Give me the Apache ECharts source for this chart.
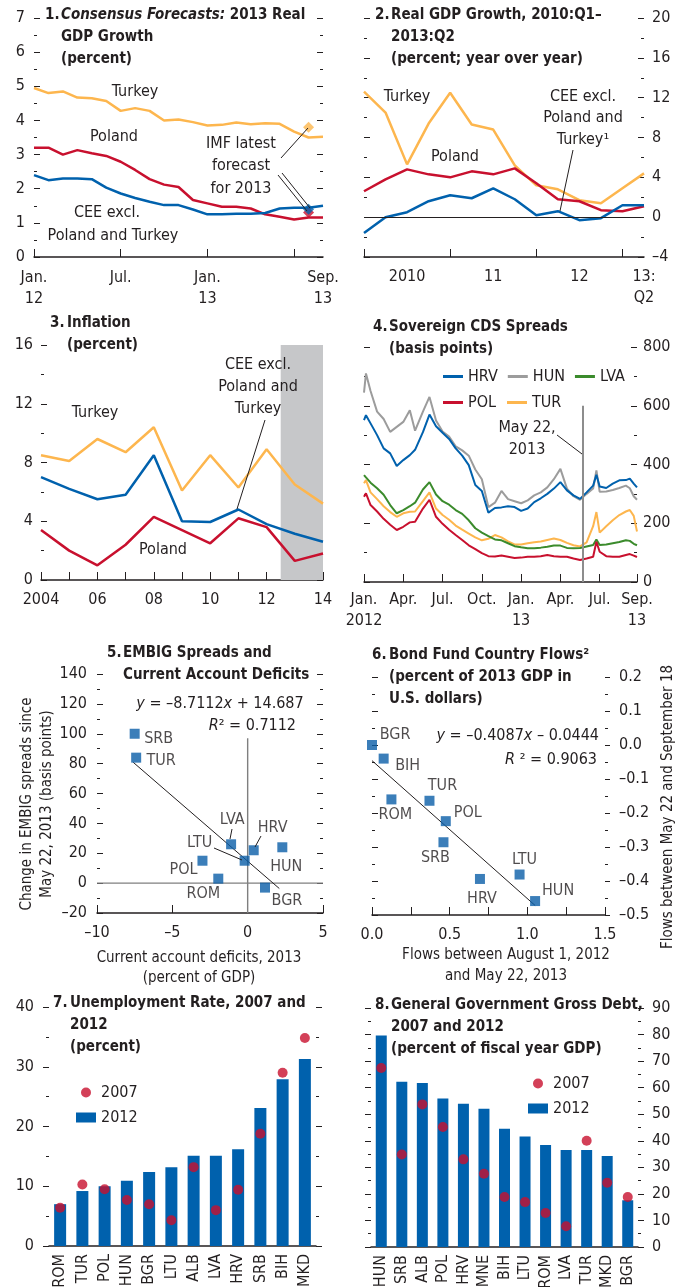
<!DOCTYPE html>
<html>
<head>
<meta charset="utf-8">
<script src="https://cdn.jsdelivr.net/npm/echarts@6/dist/echarts.min.js"></script>
<style>
html, body { margin: 0; padding: 0; background: #fff; }
#chart { width: 685px; height: 1287px; }
</style>
</head>
<body>
<div id="chart"></div>
<script>
// ---- panel 1: Consensus forecasts of 2013 growth (monthly, Jan 12 - Sep 13)
var p1Months = ['2012-01','2012-02','2012-03','2012-04','2012-05','2012-06','2012-07','2012-08','2012-09','2012-10','2012-11','2012-12',
                '2013-01','2013-02','2013-03','2013-04','2013-05','2013-06','2013-07','2013-08','2013-09'];
var p1Turkey = [4.95,4.8,4.85,4.67,4.65,4.57,4.28,4.36,4.28,4.0,4.03,3.95,3.85,3.87,3.94,3.89,3.92,3.9,3.67,3.5,3.52];
var p1Poland = [3.2,3.2,3.0,3.13,3.04,2.96,2.79,2.55,2.28,2.12,2.05,1.67,1.57,1.47,1.47,1.42,1.25,1.18,1.1,1.16,1.16];
var p1Cee = [2.4,2.25,2.3,2.3,2.28,2.03,1.86,1.73,1.62,1.52,1.52,1.39,1.25,1.25,1.27,1.27,1.29,1.42,1.44,1.44,1.5];
var p1ImfMonth = '2013-08';
var p1Imf = [3.8, 1.3, 1.4]; // Turkey, Poland, CEE

// ---- panel 2: real GDP growth, quarterly
var p2Quarters = ['2010Q1','2010Q2','2010Q3','2010Q4','2011Q1','2011Q2','2011Q3','2011Q4',
                  '2012Q1','2012Q2','2012Q3','2012Q4','2013Q1','2013Q2'];
var p2Turkey = [12.6,10.5,5.3,9.4,12.5,9.3,8.8,5.2,3.2,2.8,1.7,1.4,2.9,4.4];
var p2Poland = [2.6,3.8,4.8,4.3,4.0,4.6,4.3,4.9,3.4,1.8,1.6,0.7,0.6,1.1];
var p2Cee = [-1.6,0.0,0.5,1.6,2.2,1.9,2.9,1.8,0.2,0.6,-0.3,-0.1,1.2,1.2];

// ---- panel 3: inflation, annual
var p3Years = [2004,2005,2006,2007,2008,2009,2010,2011,2012,2013,2014];
var p3Turkey = [8.5,8.1,9.6,8.7,10.4,6.1,8.5,6.3,8.9,6.5,5.2];
var p3Cee = [7.0,6.2,5.5,5.8,8.5,4.0,3.95,4.8,3.8,3.15,2.6];
var p3Poland = [3.4,2.0,1.0,2.4,4.3,3.4,2.5,4.2,3.6,1.3,1.8];

// ---- panel 4: sovereign CDS spreads (x = months since Jan. 1, 2012)
var cdsMonth = [0,0.15,0.5,1,1.5,2,2.5,3,3.5,3.9,4.5,5,5.5,6,6.5,7,7.5,8,8.5,9,9.5,10,10.5,11,11.5,12,12.5,13,13.5,14,14.5,
                15,15.5,16,16.5,17,17.5,17.75,18,18.5,19,19.5,20,20.3,20.6,20.85];
var cdsHun = [645,710,650,580,555,511,528,545,585,515,580,630,550,512,495,462,448,430,383,350,255,270,310,282,275,268,278,295,305,322,350,
              385,318,292,280,300,318,380,307,308,313,320,328,319,292,280];
var cdsHrv = [551,568,540,500,455,438,395,415,432,450,510,570,530,508,487,455,430,398,330,310,236,252,254,258,255,242,250,272,285,300,318,
              340,312,295,283,305,328,365,325,320,335,346,347,352,335,322];
var cdsLva = [364,356,338,319,297,262,234,245,258,270,315,340,298,275,263,245,232,210,183,168,156,145,142,132,122,118,115,115,117,120,124,
              124,116,115,116,121,126,145,126,128,132,136,142,140,130,125];
var cdsTur = [336,347,305,282,258,238,222,234,239,240,275,305,250,228,212,192,178,165,152,142,147,160,152,138,128,128,132,135,138,143,148,
              143,133,125,121,135,190,238,168,190,210,228,240,245,225,172];
var cdsPol = [290,302,262,240,215,195,177,188,203,205,250,280,222,198,178,160,143,125,112,98,88,87,90,86,82,83,86,86,88,92,88,
              86,86,80,75,80,86,137,103,88,86,86,92,95,90,85];
var may22 = 16.68;

// ---- panel 5: EMBIG spreads vs current account deficits
var emNames = ['SRB','TUR','LVA','HRV','HUN','LTU','POL','ROM','BGR'];
var emCaDeficit = [-7.5,-7.4,-1.1,0.4,2.3,-0.2,-3.0,-1.95,1.15];
var emSpreadChange = [100,84,26,22,24,15,15,3,-3];
var emTrendX = [-7.6, 2.1];
var emTrendY = [80.9, -3.6];

// ---- panel 6: bond fund flows
var bfNames = ['BGR','BIH','ROM','TUR','POL','SRB','HRV','LTU','HUN'];
var bfBefore = [0.0,0.075,0.125,0.37,0.475,0.46,0.695,0.95,1.05];
var bfAfter = [0.0,-0.04,-0.16,-0.164,-0.224,-0.286,-0.394,-0.381,-0.459];
var bfTrendX = [0.0, 1.05];
var bfTrendY = [-0.046, -0.472];

// ---- panel 7: unemployment
var unCountries = ['ROM','TUR','POL','HUN','BGR','LTU','ALB','LVA','HRV','SRB','BIH','MKD'];
var un2012 = [7.0,9.2,10.0,10.9,12.4,13.2,15.1,15.1,16.2,23.1,27.9,31.3];
var un2007 = [6.4,10.3,9.5,7.7,7.0,4.3,13.2,6.0,9.4,18.8,29.0,34.8];

// ---- panel 8: gross debt
var debtCountries = ['HUN','SRB','ALB','POL','HRV','MNE','BIH','LTU','ROM','LVA','TUR','MKD','BGR'];
var debt2012 = [79.6,62.2,61.8,55.9,53.9,52.1,44.5,41.6,38.4,36.5,36.5,34.3,17.6];
var debt2007 = [67.4,34.8,53.7,45.2,33.0,27.6,18.8,16.9,12.8,7.8,40.0,24.2,18.8];

// ---------------------------------------------------------------------------
var FONT = "'DejaVu Sans Condensed','Liberation Sans Narrow',sans-serif";
var FS = 16;      // tick labels, annotations
var FT = 15;      // titles (bold)
var FN = 15;      // axis names
var INK = '#231f20';
var BLUE = '#0061ad', RED = '#c8102e', GOLD = '#fdb64e', GRAY = '#9c9c9c', GREEN = '#3b8b2c', SQUARE = '#0a5ea8';

function merge(a, b) {
    for (var k in b) {
        if (b[k] && typeof b[k] === 'object' && !Array.isArray(b[k]) && a[k] && typeof a[k] === 'object') merge(a[k], b[k]);
        else a[k] = b[k];
    }
    return a;
}
function dash(v) { return String(v).replace('-', '\u2013'); }

var boxes = [
    [34, 18, 289, 239],
    [364, 18, 280, 239],
    [41, 345, 282, 235],
    [364, 347, 273, 235],
    [97, 674, 226, 239],
    [372, 677, 233, 238],
    [49, 1007, 267, 239],
    [371, 1008, 267, 239]
];
var grids = boxes.map(function (b) {
    return { left: b[0], top: b[1], width: b[2], height: b[3], containLabel: false, outerBoundsMode: 'none' };
});

// two y axes per grid: index 2*g (left) and 2*g+1 (right)
function yPair(g, labelSide, o, labelExtra) {
    var out = [];
    ['left', 'right'].forEach(function (pos) {
        var a = merge({
            gridIndex: g, type: 'value', position: pos,
            axisLine: { show: false, onZero: false }, splitLine: { show: false },
            axisTick: { show: true, inside: true, length: 6, lineStyle: { color: INK, width: 1 } },
            minorTick: { show: true, splitNumber: 2, length: 3, lineStyle: { color: INK, width: 1 } },
            axisLabel: { show: pos === labelSide, color: INK, fontFamily: FONT, fontSize: FS, margin: 8, formatter: dash }
        }, o);
        if (pos === labelSide && labelExtra) merge(a, labelExtra);
        out.push(a);
    });
    return out;
}
var baseX = {
    axisLine: { show: true, onZero: false, lineStyle: { color: INK, width: 1.5 } },
    axisTick: { show: true, inside: true, length: 8, lineStyle: { color: INK, width: 1 } },
    splitLine: { show: false },
    axisLabel: { color: INK, fontFamily: FONT, fontSize: FS, lineHeight: 21, margin: 9 }
};
function xAxis(g, o) { return merge(merge({ gridIndex: g }, JSON.parse(JSON.stringify(baseX))), o); }

var p1Labels = { 0: 'Jan.\n12', 6: 'Jul.', 12: 'Jan.\n13', 20: 'Sep.\n13' };
var p2Labels = { 2: '2010', 6: '11', 10: '12', 13: '13:\nQ2' };
var p4Labels = { 0: 'Jan.\n2012', 3: 'Apr.', 6: 'Jul.', 9: 'Oct.', 12: 'Jan.\n13', 15: 'Apr.', 18: 'Jul.' };

var xAxes = [
    xAxis(0, { type: 'category', data: p1Months, boundaryGap: false,
        axisTick: { interval: function (i) { return i % 6 === 0; } },
        axisLabel: { margin: 10, interval: function (i) { return p1Labels[i] !== undefined; },
                     formatter: function (v, i) { return p1Labels[i] || ''; } } }),
    xAxis(1, { type: 'category', data: p2Quarters, boundaryGap: false,
        axisTick: { interval: function (i) { return i % 4 === 0; } },
        axisLabel: { interval: function (i) { return p2Labels[i] !== undefined; },
                     formatter: function (v, i) { return p2Labels[i] || ''; } } }),
    xAxis(2, { type: 'value', min: 2004, max: 2014, interval: 1,
        axisLabel: { formatter: function (v) { return v === 2004 ? '2004' : (v % 2 === 0 ? String(v).slice(2) : ''); } } }),
    xAxis(3, { type: 'value', min: 0, max: 20.85, interval: 3,
        axisLabel: { margin: 7, formatter: function (v) { return p4Labels[v] !== undefined ? p4Labels[v] : (v > 20 ? 'Sep.\n13' : ''); } } }),
    xAxis(4, { type: 'value', min: -10, max: 5, interval: 5, axisLabel: { formatter: dash } }),
    xAxis(5, { type: 'value', min: 0, max: 1.5, interval: 0.25,
        axisLabel: { formatter: function (v) { return Math.abs(v * 2 - Math.round(v * 2)) < 1e-6 ? v.toFixed(1) : ''; } } }),
    xAxis(6, { type: 'category', data: unCountries, axisTick: { show: false },
        axisLabel: { rotate: 90, interval: 0, margin: 8 } }),
    xAxis(7, { type: 'category', data: debtCountries, axisTick: { show: false },
        axisLabel: { rotate: 90, interval: 0, margin: 8 } })
];

var yAxes = [].concat(
    yPair(0, 'left', { min: 0, max: 7, interval: 1 }, { axisLabel: { margin: 9 } }),
    yPair(1, 'right', { min: -4, max: 20, interval: 4 }),
    yPair(2, 'left', { min: 0, max: 16, interval: 4 }),
    yPair(3, 'right', { min: 0, max: 800, interval: 200 }, { axisLabel: { margin: 6 } }),
    yPair(4, 'left', { min: -20, max: 140, interval: 20 }, { axisLabel: { margin: 10 } }),
    yPair(5, 'right', { min: -0.5, max: 0.2, interval: 0.1 },
        { axisTick: { inside: false, length: 5 }, axisLabel: { margin: 14, formatter: function (v) { return dash(v.toFixed(1)); } } }),
    yPair(6, 'left', { min: 0, max: 40, interval: 10, axisTick: { inside: false } }, { axisLabel: { margin: 15 } }),
    yPair(7, 'right', { min: 0, max: 90, interval: 10, axisTick: { inside: false } }, { axisLabel: { margin: 14 } })
);

function line(g, name, data, color, width, extra) {
    return merge({
        type: 'line', name: name, xAxisIndex: g, yAxisIndex: 2 * g, data: data,
        showSymbol: false, symbol: 'none', color: color, itemStyle: { color: color },
        lineStyle: { color: color, width: width }, z: 3
    }, extra || {});
}
function pairs(xs, ys) { return xs.map(function (x, i) { return [x, ys[i]]; }); }

var series = [];
// panel 1
series.push(line(0, 'p1tur', p1Turkey, GOLD, 2.5));
series.push(line(0, 'p1pol', p1Poland, RED, 2.5));
series.push(line(0, 'p1cee', p1Cee, BLUE, 2.5));
[GOLD, RED, BLUE].forEach(function (c, i) {
    series.push({ type: 'scatter', name: 'imf' + i, xAxisIndex: 0, yAxisIndex: 0, symbol: 'diamond', symbolSize: 11,
        itemStyle: { color: c }, data: [[p1ImfMonth, p1Imf[i]]], z: 4 });
});
// panel 2
series.push(line(1, 'p2tur', p2Turkey, GOLD, 2.5, {
    markLine: { silent: true, symbol: 'none', label: { show: false }, lineStyle: { color: INK, width: 1, type: 'solid' },
                data: [{ yAxis: 0 }] }
}));
series.push(line(1, 'p2pol', p2Poland, RED, 2.5));
series.push(line(1, 'p2cee', p2Cee, BLUE, 2.5));
// panel 3
series.push(line(2, 'p3band', [], INK, 0, {
    z: 1, markArea: { silent: true, itemStyle: { color: '#c6c7c9' }, data: [[{ xAxis: 2012.5 }, { xAxis: 2014 }]] }
}));
series.push(line(2, 'p3tur', pairs(p3Years, p3Turkey), GOLD, 2.5));
series.push(line(2, 'p3cee', pairs(p3Years, p3Cee), BLUE, 2.5));
series.push(line(2, 'p3pol', pairs(p3Years, p3Poland), RED, 2.5));
// panel 4
series.push(line(3, 'HUN', pairs(cdsMonth, cdsHun), GRAY, 2));
series.push(line(3, 'HRV', pairs(cdsMonth, cdsHrv), BLUE, 2));
series.push(line(3, 'TUR', pairs(cdsMonth, cdsTur), GOLD, 2));
series.push(line(3, 'LVA', pairs(cdsMonth, cdsLva), GREEN, 2));
series.push(line(3, 'POL', pairs(cdsMonth, cdsPol), RED, 2, {
    markLine: { silent: true, symbol: 'none', label: { show: false }, lineStyle: { color: '#8d8d8d', width: 2, type: 'solid' },
                data: [[{ coord: [may22, 0] }, { coord: [may22, 600] }]] }
}));
// panel 5: reference axes through zero, trend line, points
series.push(line(4, 'emZeroH', [[-10, 0], [5, 0]], '#7f7f7f', 1.4, { z: 1 }));
series.push(line(4, 'emZeroV', [[0, -20], [0, 97]], '#7f7f7f', 1.4, { z: 1 }));
series.push(line(4, 'emTrend', pairs(emTrendX, emTrendY), INK, 1, { z: 2 }));
var emLabelShift = { SRB: [24, 5], TUR: [25, 3], LVA: [1, -24], HRV: [19, -22], HUN: [4, 20], LTU: [-45, -18], POL: [-19, 9], ROM: [-15, 15], BGR: [22, 13] };
var scatterLabel = { show: true, position: 'inside', formatter: '{b}', color: INK, fontFamily: FONT, fontSize: FS };
series.push({ type: 'scatter', name: 'em', xAxisIndex: 4, yAxisIndex: 8, symbol: 'rect', symbolSize: 10,
    itemStyle: { color: SQUARE }, label: scatterLabel, z: 4,
    data: emNames.map(function (n, i) { return { name: n, value: [emCaDeficit[i], emSpreadChange[i]], label: { offset: emLabelShift[n] } }; }) });
// panel 6
var bfLabelShift = { BGR: [23, -10], BIH: [24, 7], ROM: [4, 15], TUR: [13, -15], POL: [22, -8], SRB: [-8, 16], HRV: [2, 20], LTU: [5, -15], HUN: [23, -10] };
series.push(line(5, 'bfTrend', pairs(bfTrendX, bfTrendY), INK, 1, { z: 2 }));
series.push({ type: 'scatter', name: 'bf', xAxisIndex: 5, yAxisIndex: 10, symbol: 'rect', symbolSize: 10,
    itemStyle: { color: SQUARE }, label: scatterLabel, z: 4,
    data: bfNames.map(function (n, i) { return { name: n, value: [bfBefore[i], bfAfter[i]], label: { offset: bfLabelShift[n] } }; }) });
// panel 7
series.push({ type: 'bar', name: '2012', xAxisIndex: 6, yAxisIndex: 12, data: un2012, barWidth: 12, itemStyle: { color: BLUE }, z: 2 });
series.push({ type: 'scatter', name: '2007', xAxisIndex: 6, yAxisIndex: 12, data: un2007, symbolSize: 10, itemStyle: { color: RED }, z: 4 });
// panel 8
series.push({ type: 'bar', name: '2012', xAxisIndex: 7, yAxisIndex: 14, data: debt2012, barWidth: 11, itemStyle: { color: BLUE }, z: 2 });
series.push({ type: 'scatter', name: '2007', xAxisIndex: 7, yAxisIndex: 14, data: debt2007, symbolSize: 10, itemStyle: { color: RED }, z: 4 });

// titles: number + hanging-indent text
var titleSpecs = [
    ['1.', 45, 61, 4, '{i|Consensus Forecasts:} 2013 Real\nGDP Growth\n(percent)'],
    ['2.', 375, 391, 4, 'Real GDP Growth, 2010:Q1\u2013\n2013:Q2\n(percent; year over year)'],
    ['3.', 50, 67, 312, 'Inflation\n(percent)'],
    ['4.', 373, 389, 316, 'Sovereign CDS Spreads\n(basis points)'],
    ['5.', 107, 123, 642, 'EMBIG Spreads and\nCurrent Account Deficits'],
    ['6.', 372, 389, 644, 'Bond Fund Country Flows\u00b2\n(percent of 2013 GDP in\nU.S. dollars)'],
    ['7.', 53, 70, 992, 'Unemployment Rate, 2007 and\n2012\n(percent)'],
    ['8.', 375, 391, 994, 'General Government Gross Debt,\n2007 and 2012\n(percent of fiscal year GDP)']
];
var tStyle = { color: INK, fontFamily: FONT, fontSize: FT, fontWeight: 'bold', lineHeight: 22,
    rich: { i: { fontStyle: 'italic', fontWeight: 'bold', fontFamily: FONT, fontSize: FT, lineHeight: 22, color: INK } } };
var titles = [];
titleSpecs.forEach(function (t) {
    titles.push({ text: t[0], left: t[1], top: t[3], padding: 0, textStyle: tStyle });
    titles.push({ text: t[4], left: t[2], top: t[3], padding: 0, textStyle: tStyle });
});

// annotations
function txt(x, y, s, o) {
    return { type: 'text', x: x, y: y, z: 20, style: merge({ text: s, fill: INK, fontFamily: FONT, fontSize: FS,
        align: 'center', verticalAlign: 'middle', lineHeight: 22 }, o || {}) };
}
function seg(x1, y1, x2, y2) {
    return { type: 'line', z: 20, shape: { x1: x1, y1: y1, x2: x2, y2: y2 }, style: { stroke: INK, lineWidth: 1 } };
}
var eqRich = { i: { fontStyle: 'italic', fontFamily: FONT, fontSize: FS, fill: INK } };
var graphics = [
    txt(135, 92, 'Turkey'), txt(114, 137, 'Poland'), txt(107, 213, 'CEE excl.'), txt(113, 236, 'Poland and Turkey'),
    txt(241, 166, 'IMF latest\nforecast\nfor 2013', { lineHeight: 22.5 }),
    seg(281, 158, 308, 128), seg(278, 175, 307, 211), seg(282, 173, 310, 208),
    txt(407, 97, 'Turkey'), txt(455, 157, 'Poland'), txt(583, 118, 'CEE excl.\nPoland and\nTurkey\u00b9', { lineHeight: 21.5 }),
    seg(573, 150, 560, 211),
    txt(95, 413, 'Turkey'), txt(163, 550, 'Poland'), txt(258, 387, 'CEE excl.\nPoland and\nTurkey', { lineHeight: 22 }),
    seg(265, 420, 237, 509),
    txt(527, 439, 'May 22,\n2013', { lineHeight: 22 }), seg(557, 435, 582, 454),
    txt(220, 704, '{i|y} = \u20138.7112{i|x} + 14.687', { rich: eqRich }),
    txt(296, 726, '{i|R}\u00b2 = 0.7112', { rich: eqRich, align: 'right' }),
    seg(232, 829, 230, 839), seg(261, 836, 255, 847), seg(214, 848, 242, 860),
    { type: 'text', x: 37, y: 804, rotation: Math.PI / 2, z: 20,
      style: { text: 'Change in EMBIG spreads since\nMay 22, 2013 (basis points)', fill: INK, fontFamily: FONT, fontSize: FN,
               align: 'center', verticalAlign: 'middle', lineHeight: 20 } },
    txt(199, 968, 'Current account deficits, 2013\n(percent of GDP)', { lineHeight: 20, fontSize: FN }),
    txt(599, 736, '{i|y} = \u20130.4087{i|x} \u2013 0.0444', { rich: eqRich, align: 'right' }),
    txt(597, 760, '{i|R} \u00b2 = 0.9063', { rich: eqRich, align: 'right' }),
    { type: 'text', x: 668, y: 807, rotation: Math.PI / 2, z: 20,
      style: { text: 'Flows between May 22 and September 18', fill: INK, fontFamily: FONT, fontSize: FN,
               align: 'center', verticalAlign: 'middle' } },
    txt(506, 966, 'Flows between August 1, 2012\nand May 22, 2013', { lineHeight: 21, fontSize: FN })
];

var legText = { color: INK, fontFamily: FONT, fontSize: FS, lineHeight: 17 };
var legends = [
    { data: ['HRV', 'HUN', 'LVA'], left: 443, top: 368, padding: 0, icon: 'rect', itemWidth: 20, itemHeight: 3, itemGap: 10, textStyle: legText, selectedMode: false },
    { data: ['POL', 'TUR'], left: 443, top: 394, padding: 0, icon: 'rect', itemWidth: 20, itemHeight: 3, itemGap: 11, textStyle: legText, selectedMode: false },
    { data: [{ name: '2007', icon: 'circle' }, { name: '2012', icon: 'rect' }], orient: 'vertical', left: 76, top: 1084,
      padding: 0, itemWidth: 20, itemHeight: 10, itemGap: 8, textStyle: legText, selectedMode: false },
    { data: [{ name: '2007', icon: 'circle' }, { name: '2012', icon: 'rect' }], orient: 'vertical', left: 528, top: 1075,
      padding: 0, itemWidth: 20, itemHeight: 10, itemGap: 8, textStyle: legText, selectedMode: false }
];

var chart = echarts.init(document.getElementById('chart'), null, { renderer: 'canvas' });
chart.setOption({
    animation: false,
    backgroundColor: '#fff',
    textStyle: { fontFamily: FONT },
    title: titles,
    legend: legends,
    grid: grids,
    xAxis: xAxes,
    yAxis: yAxes,
    series: series,
    graphic: graphics
});
</script>
</body>
</html>
